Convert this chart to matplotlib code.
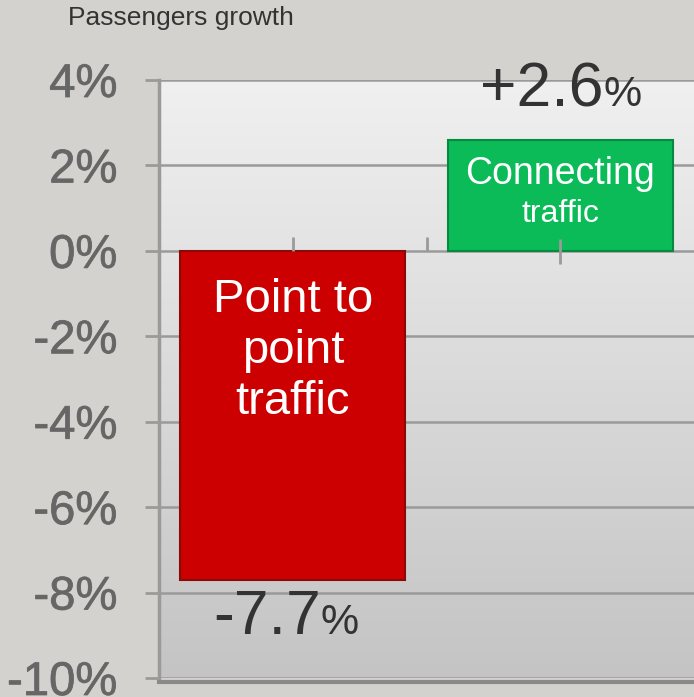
import numpy as np
import matplotlib
matplotlib.use("Agg")
import matplotlib.pyplot as plt
import matplotlib.patheffects as pe

plt.rcParams['font.family'] = ['Liberation Sans', 'DejaVu Sans']

# Data
categories = ['Point to\npoint\ntraffic', 'Connecting']
growth = [-7.7, 2.6]
value_labels = ['-7.7', '+2.6']
bar_colors = ['#cc0000', '#0abb58']
edge_colors = ['#8a0a0a', '#078a40']
yticks = [4, 2, 0, -2, -4, -6, -8, -10]

fig = plt.figure(figsize=(6.94, 6.97), dpi=100)
fig.patch.set_facecolor('#d4d2ce')
ax = fig.add_axes([159 / 694, 19 / 697, 1 - 159 / 694, (678 - 80) / 697])
ax.set_xlim(-0.5, 1.5)
ax.set_ylim(-10, 4)

# gradient background of the plot area
grad = np.linspace(0, 1, 256).reshape(-1, 1)
ax.imshow(grad, extent=[0, 1, 0, 1], transform=ax.transAxes, aspect='auto',
          cmap=matplotlib.colors.LinearSegmentedColormap.from_list('bg', ['#f0f0f0', '#c4c4c4']),
          zorder=0)

for y in yticks:
    ax.axhline(y, color='#9a9a9a', lw=1.8, zorder=1)

x = np.arange(len(growth))
ax.bar(x, growth, width=0.84, color=bar_colors, edgecolor=edge_colors, lw=1.5, zorder=2)

# bar labels
ax.text(0, -2.35, categories[0], ha='center', va='center', color='white',
        fontsize=34, linespacing=1.2, zorder=3)
ax.text(1, 1.8, 'Connecting', ha='center', va='center', color='white', fontsize=27, zorder=3)
ax.text(1, 0.87, 'traffic', ha='center', va='center', color='white', fontsize=23, zorder=3)

# value labels with smaller percent sign
for xi, v, lab in zip(x, growth, value_labels):
    yb = 3.39 if v > 0 else -8.96
    xa = xi + (0.16 if v > 0 else 0.105)
    ax.text(xa, yb, lab, ha='right', va='baseline', color='#333333',
            fontsize=45, zorder=3)
    ax.text(xa, yb, '%', ha='left', va='baseline', color='#333333',
            fontsize=31, zorder=3)

ax.set_yticks(yticks)
ax.set_yticklabels([f'{t}%' for t in yticks])
ax.tick_params(axis='y', length=10, width=2, color='#9a9a9a', pad=20,
               labelsize=34, labelcolor='#666666')
for lab in ax.get_yticklabels():
    lab.set_path_effects([pe.withStroke(linewidth=0.6, foreground='#707070')])
ax.set_xticks([])
for s in ['top', 'right']:
    ax.spines[s].set_visible(False)
ax.spines['left'].set_color('#9a9a9a')
ax.spines['left'].set_linewidth(2.5)
ax.spines['bottom'].set_color('#8a8a8a')
ax.spines['bottom'].set_linewidth(3)
ax.spines['bottom'].set_linestyle((0, (1, 1)))
ax.spines['bottom'].set_position(('outward', 3))

# small category ticks on the zero line
sec = ax.secondary_xaxis(10 / 14)
for s in sec.spines.values():
    s.set_visible(False)
sec.set_xticks([0, 0.5])
sec.set_xticklabels([])
sec.set_xticks([1], minor=True)
sec.tick_params(which='major', direction='out', length=10, width=2, color='#9a9a9a')
sec.tick_params(which='minor', direction='inout', length=18, width=2, color='#9a9a9a')
sec.set_zorder(4)

fig.text(68 / 694, 1 - 18 / 697, 'Passengers growth', ha='left', va='center',
         fontsize=19, color='#333333')

fig.savefig('out.png', dpi=100, facecolor=fig.get_facecolor())
